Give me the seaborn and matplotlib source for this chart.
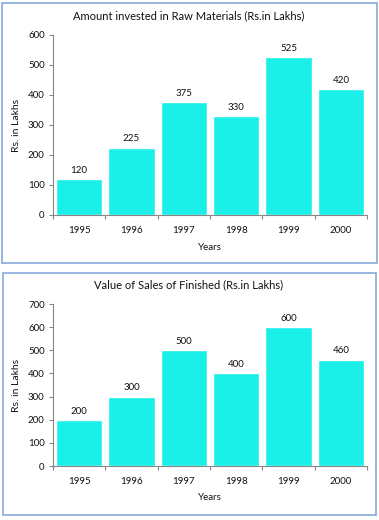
import matplotlib
matplotlib.use("Agg")
import matplotlib.pyplot as plt
import seaborn as sns
import pandas as pd
from matplotlib.patches import Rectangle

years = ["1995", "1996", "1997", "1998", "1999", "2000"]
raw_materials = [120, 225, 375, 330, 525, 420]
sales_finished = [200, 300, 500, 400, 600, 460]
title1 = "Amount invested in Raw Materials (Rs.in Lakhs)"
title2 = "Value of Sales of Finished (Rs.in Lakhs)"
ylabel = "Rs. in Lakhs"
xlabel = "Years"

sns.set_theme(style="white")
plt.rcParams["font.family"] = ["Lato", "DejaVu Sans"]

W, H = 379, 520
fig = plt.figure(figsize=(W / 100, H / 100), dpi=100)
fig.patch.set_facecolor("white")

bar_color = "#1AEFE8"
axis_gray = "#868686"
border_color = "#86A9D9"
txt = "#111111"

def fx(px):
    return px / W

def fy(py):
    return 1 - py / H

# panel borders
for (x0, y0, x1, y1) in [(2, 3, 377, 263), (3, 273, 376, 515)]:
    fig.add_artist(Rectangle((fx(x0), fy(y1)), fx(x1 - x0), (y1 - y0) / H,
                             transform=fig.transFigure, fill=False,
                             edgecolor=border_color, linewidth=1.2))

def panel(ax_rect, values, ymax, title, title_y, xlabel_y):
    ax = fig.add_axes(ax_rect)
    df = pd.DataFrame({"Year": years, "Value": values})
    sns.barplot(data=df, x="Year", y="Value", color=bar_color, saturation=1,
                width=0.88, ax=ax)
    ax.set_ylim(0, ymax)
    ax.set_xlim(-0.5, len(years) - 0.5)
    ax.set_yticks(range(0, ymax + 1, 100))
    ax.tick_params(axis="y", direction="out", length=3, width=0.8,
                   color=axis_gray, labelsize=7, pad=3, left=True)
    ax.tick_params(axis="x", which="major", length=0, labelsize=7, pad=8)
    ax.set_xticks([i - 0.5 for i in range(len(years) + 1)], minor=True)
    ax.tick_params(axis="x", which="minor", direction="out", length=3,
                   width=0.8, color=axis_gray, bottom=True)
    for lab in ax.get_xticklabels() + ax.get_yticklabels():
        lab.set_color(txt)
    for s in ["top", "right"]:
        ax.spines[s].set_visible(False)
    for s in ["left", "bottom"]:
        ax.spines[s].set_color(axis_gray)
        ax.spines[s].set_linewidth(0.8)
    ax.grid(False)
    ax.set_xlabel("")
    ax.set_ylabel(ylabel, fontsize=7.5, color=txt)
    ax.yaxis.set_label_coords((21 - 53) / 314, 0.5)
    ax.bar_label(ax.containers[0], labels=[str(v) for v in values],
                 padding=3, fontsize=7, color=txt)
    fig.text(fx(189), fy(title_y), title, ha="center", va="center",
             fontsize=8, color=txt)
    fig.text(fx(210), fy(xlabel_y), xlabel, ha="center", va="center",
             fontsize=7, color=txt)
    return ax

panel([fx(53), fy(215), fx(314), 180 / H], raw_materials, 600, title1, 16, 247)
panel([fx(53), fy(466), fx(314), 162 / H], sales_finished, 700, title2, 285, 498)

fig.savefig("out.png", dpi=100, facecolor="white")
